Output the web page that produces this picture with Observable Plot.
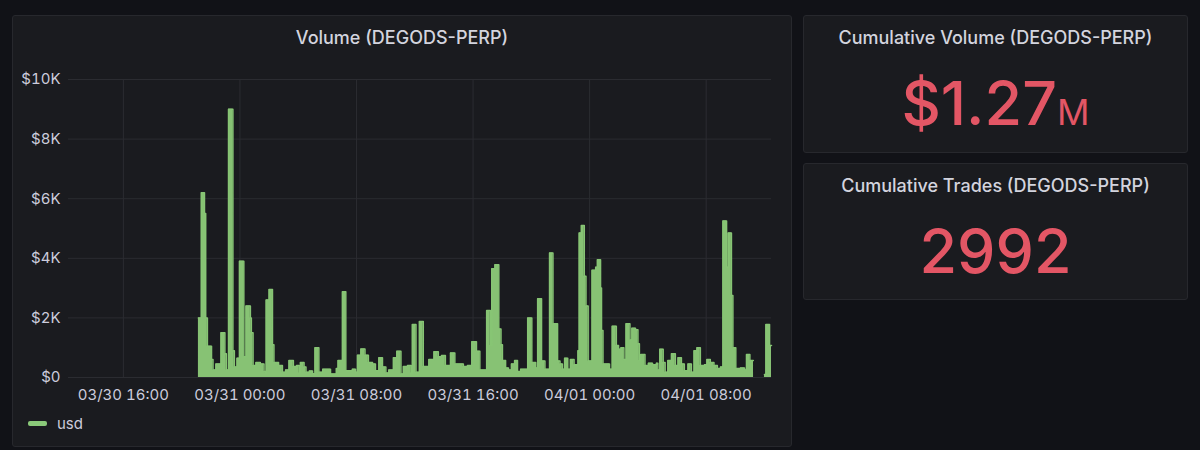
<!DOCTYPE html>
<html>
<head>
<meta charset="utf-8">
<script src="https://cdn.jsdelivr.net/npm/d3@7"></script>
<script src="https://cdn.jsdelivr.net/npm/@observablehq/plot@0.6"></script>
<style>
html,body{margin:0;padding:0;background:#111217;width:1200px;height:450px;overflow:hidden;font-family:Inter,sans-serif;}
.panel{position:absolute;background:#1a1b1f;border:1px solid #27282d;border-radius:3px;box-sizing:border-box;}
.title{position:absolute;left:0;right:0;text-align:center;color:#d3d4de;font-size:18px;font-weight:500;line-height:20px;}
.stat{position:absolute;left:0;right:0;text-align:center;color:#e35665;font-size:61px;font-weight:500;line-height:70px;white-space:nowrap;}
.stat span{font-size:36px;font-weight:400;}
#chart{position:absolute;left:12px;top:60px;}
#legend{position:absolute;left:28px;top:413px;height:20px;display:flex;align-items:center;color:#ccccdc;font-size:15px;}
#legend i{display:block;width:19px;height:5px;background:#8ac979;border-radius:2px;margin-right:10px;}
</style>
</head>
<body>
<div class="panel" style="left:12px;top:15px;width:780px;height:432px"><div class="title" style="top:12px">Volume (DEGODS-PERP)</div></div>
<div class="panel" style="left:803px;top:15px;width:385px;height:138px">
  <div class="title" style="top:12px">Cumulative Volume (DEGODS-PERP)</div>
  <div class="stat" style="top:52px">$1.27<span>M</span></div>
</div>
<div class="panel" style="left:803px;top:163px;width:385px;height:137px">
  <div class="title" style="top:12px">Cumulative Trades (DEGODS-PERP)</div>
  <div class="stat" style="top:52px">2992</div>
</div>
<div id="chart"></div>
<div id="legend"><i></i>usd</div>
<script>
// minutes since 03/31 00:00 at which each step begins
const minutes = [-171,-159,-146,-141,-134,-117,-111,-99,-78,-62,-56,-47,-29,-23,-12,-2,16,25,43,47,54,66,84,99,105,108,120,134,140,159,175,188,202,220,233,243,249,264,272,286,299,309,325,341,373,397,404,422,436,463,476,484,498,515,529,546,558,572,587,601,613,632,646,663,673,690,704,710,725,739,755,778,799,817,830,846,867,885,920,937,955,974,988,1016,1031,1037,1050,1066,1075,1081,1094,1106,1118,1131,1143,1156,1185,1202,1218,1226,1242,1256,1275,1289,1308,1318,1328,1337,1350,1361,1376,1392,1397,1406,1418,1425,1434,1450,1465,1472,1485,1489,1495,1522,1533,1550,1559,1569,1581,1590,1606,1614,1629,1639,1645,1651,1668,1682,1699,1715,1721,1729,1743,1751,1762,1777,1793,1804,1818,1830,1845,1859,1870,1882,1896,1913,1923,1937,1952,1966,1979,1989,2004,2011,2024,2030,2042,2061,2078,2086,2100,2114,2115,2160,2166,2181,2189];
// USD volume at each step, in thousands (null = no data)
const usdK = [2.0,6.2,5.5,2.0,1.05,0.6,0.25,0.45,1.5,0.8,0.25,9.0,0.9,0.35,0.65,3.9,0.7,2.4,2.0,1.5,0.4,0.5,0.45,0.2,0.15,2.6,2.95,1.1,0.5,0.4,0.18,0.25,0.57,0.37,0.4,0.15,0.5,0.35,0.18,0.22,0.13,1.0,0.18,0.28,0.12,0.3,0.57,2.88,0.23,0.28,0.18,0.75,0.96,0.75,0.5,0.45,0.23,0.66,0.35,0.15,0.25,0.66,0.88,0.12,0.37,0.4,0.15,1.78,0.18,1.88,0.37,0.6,0.86,0.7,0.74,0.4,0.82,0.45,0.37,0.4,1.2,0.88,0.25,2.25,1.07,3.65,3.78,1.63,1.1,0.57,0.32,0.25,0.45,0.57,0.2,0.28,2.0,0.5,0.32,2.64,0.55,0.28,4.18,1.8,0.55,0.45,0.28,0.65,0.28,0.6,0.43,0.9,4.85,5.1,3.4,2.4,0.55,3.6,3.7,3.95,3.0,1.58,0.45,0.28,1.72,1.07,0.95,1.0,0.6,1.8,1.26,1.65,1.6,1.13,0.57,0.77,0.4,0.48,0.43,0.48,0.25,0.95,0.5,0.18,0.57,0.8,0.4,0.66,0.45,0.23,0.45,0.18,0.9,1.0,0.4,0.43,0.6,0.5,0.4,0.3,0.35,5.25,3.7,4.85,2.75,1.0,0.3,0.32,0.25,0.77,0.57,0.57,null,0.1,1.78,1.07,1.07];
const xTickMinutes = [-480,0,480,960,1440,1920];
const xTickLabels = ["03/30 16:00","03/31 00:00","03/31 08:00","03/31 16:00","04/01 00:00","04/01 08:00"];
const yTicks = [0,2000,4000,6000,8000,10000];
const yTickLabels = ["$0","$2K","$4K","$6K","$8K","$10K"];
const xDomainMinutes = [-706,2189];

const origin = Date.UTC(2023,2,31);
const toDate = m => new Date(origin + m*60000);
const rows = minutes.map((m,i)=>({t:toDate(m), v:usdK[i]==null?null:usdK[i]*1000}));
const xTicks = xTickMinutes.map(toDate);
const xLabel = new Map(xTicks.map((d,i)=>[+d,xTickLabels[i]]));
const yLabel = new Map(yTicks.map((d,i)=>[d,yTickLabels[i]]));

const chart = Plot.plot({
  width:779, height:350,
  marginLeft:56, marginRight:20, marginTop:19, marginBottom:33,
  style:{background:"transparent",color:"#ccccdc",fontFamily:"Inter,sans-serif",fontSize:"15px",overflow:"visible"},
  x:{type:"utc",domain:xDomainMinutes.map(toDate)},
  y:{domain:[0,10000]},
  marks:[
    Plot.gridX(xTicks,{x:d=>d,stroke:"#2b2c31",strokeOpacity:1,strokeWidth:1}),
    Plot.gridY(yTicks,{y:d=>d,stroke:"#2b2c31",strokeOpacity:1,strokeWidth:1}),
    Plot.areaY(rows,{x:"t",y:"v",curve:"step-after",fill:"#87c274",fillOpacity:1,defined:d=>d.v!=null}),
    Plot.lineY(rows,{x:"t",y:"v",curve:"step-after",stroke:"#87c574",strokeWidth:1.5,defined:d=>d.v!=null}),
    Plot.axisX({ticks:xTicks,tickFormat:d=>xLabel.get(+d),tickSize:0,tickPadding:12,label:null,fontSize:15,fill:"#ccccdc"}),
    Plot.axisY({ticks:yTicks,tickFormat:d=>yLabel.get(d),tickSize:0,tickPadding:8,label:null,fontSize:15,fill:"#ccccdc"})
  ]
});
document.getElementById("chart").appendChild(chart);
</script>
</body>
</html>
